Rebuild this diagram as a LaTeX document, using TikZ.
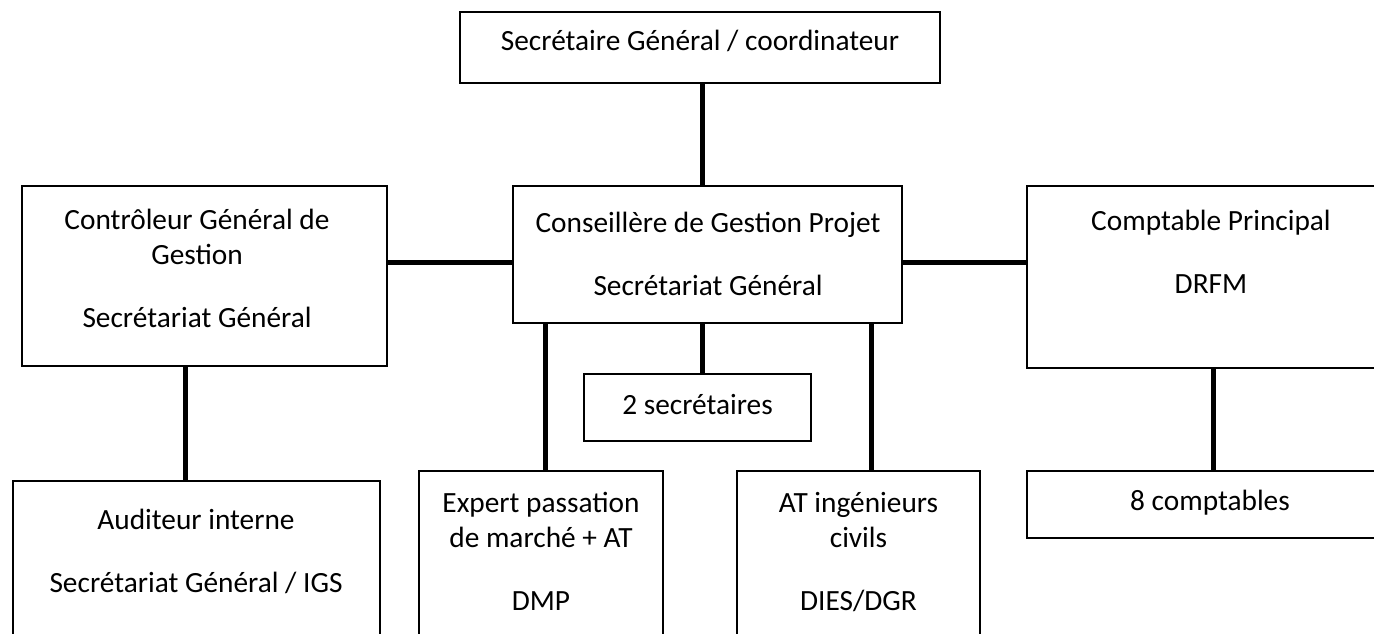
\documentclass[tikz,border=0pt]{standalone}
\usepackage{fontspec}
\setmainfont{Carlito}
\tikzset{
  box/.style={draw, line width=1pt, inner sep=0pt},
  link/.style={line width=3.75pt},
  txt/.style={align=center, anchor=base, inner sep=0pt, font=\fontsize{22}{26.25}\selectfont}
}
\begin{document}
\begin{tikzpicture}[x=0.75pt,y=-0.75pt]
    \useasboundingbox (0,0) rectangle (1374,633);

    % boxes
    \node[box, minimum width=360pt, minimum height=53.25pt] (sg) at (700,47.5) {};
    \node[box, minimum width=291.75pt, minimum height=102.75pt] (cgp) at (707.5,254.5) {};
    \node[box, minimum width=273.75pt, minimum height=135pt] (cgg) at (204.5,276) {};
    \node[box, minimum width=279.75pt, minimum height=136.5pt] (cp) at (1213.5,277) {};
    \node[box, minimum width=170.25pt, minimum height=50.25pt] (sec) at (697.5,407.5) {};
    \node[box, minimum width=275.25pt, minimum height=149.25pt] (aud) at (196.5,580.5) {};
    \node[box, minimum width=183pt, minimum height=156.75pt] (exp) at (541,575.5) {};
    \node[box, minimum width=182.25pt, minimum height=156.75pt] (at) at (858.5,575.5) {};
    \node[box, minimum width=279.75pt, minimum height=50.25pt] (cpt) at (1213.5,504.5) {};

    % texts (placed by the baseline of their last line)
    \node[txt] (sg-t) at (700,50) {Secrétaire Général / coordinateur};
    \node[txt] (cgp-t) at (708,295) {Conseillère de Gestion Projet\\[21pt]Secrétariat Général};
    \node[txt] (cgg-t) at (197,327) {Contrôleur Général de\\Gestion\\[21pt]Secrétariat Général};
    \node[txt] (cp-t) at (1211,293) {Comptable Principal\\[21pt]DRFM};
    \node[txt] (sec-t) at (697.5,414) {2 secrétaires};
    \node[txt] (aud-t) at (196,592) {Auditeur interne\\[21pt]Secrétariat Général / IGS};
    \node[txt] (exp-t) at (541,610) {Expert passation\\de marché + AT\\[21pt]DMP};
    \node[txt] (at-t) at (858.5,610) {AT ingénieurs\\civils\\[21pt]DIES/DGR};
    \node[txt] (cpt-t) at (1210,510) {8 comptables};

    % links
    \coordinate (mid) at (0,262);
    \coordinate (secx) at (702,0);
    \coordinate (audx) at (185,0);
    \coordinate (expx) at (545,0);
    \coordinate (atx) at (871,0);
    \draw[link] (sg.south -| secx) -- (cgp.north -| secx);
    \draw[link] (cgg.east |- mid) -- (cgp.west |- mid);
    \draw[link] (cgp.east |- mid) -- (cp.west |- mid);
    \draw[link] (cgg.south -| audx) -- (aud.north -| audx);
    \draw[link] (cgp.south -| expx) -- (exp.north -| expx);
    \draw[link] (cgp.south -| secx) -- (sec.north -| secx);
    \draw[link] (cgp.south -| atx) -- (at.north -| atx);
    \draw[link] (cp.south) -- (cpt.north);

\end{tikzpicture}
\end{document}
